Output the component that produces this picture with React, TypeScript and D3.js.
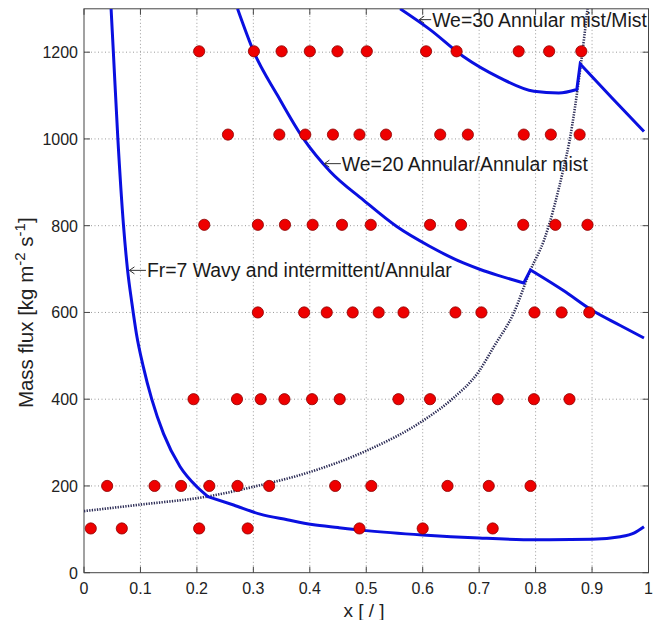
import * as d3 from 'd3';

// measured points, rows of constant mass flux
const row100x = [0.012, 0.067, 0.204, 0.29, 0.488, 0.6, 0.724];
const row200x = [0.041, 0.125, 0.172, 0.222, 0.272, 0.328, 0.445, 0.509, 0.644, 0.717, 0.791];
const row400x = [0.194, 0.271, 0.313, 0.355, 0.404, 0.453, 0.557, 0.613, 0.733, 0.797, 0.86];
const row600x = [0.308, 0.39, 0.43, 0.476, 0.522, 0.566, 0.658, 0.704, 0.798, 0.846, 0.895];
const row800x = [0.213, 0.308, 0.356, 0.405, 0.457, 0.508, 0.613, 0.668, 0.778, 0.835, 0.892];
const row1000x = [0.255, 0.346, 0.392, 0.441, 0.488, 0.535, 0.631, 0.68, 0.779, 0.827, 0.878];
const row1200x = [0.204, 0.301, 0.35, 0.4, 0.449, 0.501, 0.606, 0.66, 0.77, 0.824, 0.881];
const rowFlux = [102, 200, 400, 600, 802, 1010, 1202];

// transition curves [x, G]
const frUpper: [number, number][] = [
  [0.048, 1300], [0.052, 1200], [0.06, 1000], [0.07, 800], [0.077, 700], [0.085, 620],
  [0.093, 550], [0.105, 475], [0.12, 400], [0.141, 320], [0.17, 245], [0.2, 198], [0.22, 175],
];
const frLower: [number, number][] = [
  [0.22, 175], [0.265, 156], [0.312, 135], [0.36, 122], [0.404, 111], [0.45, 104], [0.5, 97],
  [0.6, 87], [0.7, 80], [0.8, 76], [0.9, 77], [0.95, 83], [0.975, 92], [0.992, 106],
];
const we20Upper: [number, number][] = [
  [0.272, 1300], [0.301, 1200], [0.343, 1100], [0.389, 1000], [0.436, 925], [0.495, 859],
  [0.554, 798], [0.613, 752], [0.672, 714], [0.702, 699], [0.732, 686], [0.779, 668],
];
const we20Lower: [number, number][] = [
  [0.791, 698], [0.85, 650], [0.9, 605], [0.95, 570], [0.992, 541],
];
const we30Upper: [number, number][] = [
  [0.56, 1300], [0.613, 1252], [0.672, 1190], [0.735, 1142], [0.797, 1110], [0.841, 1106], [0.873, 1114],
];
const we30Lower: [number, number][] = [
  [0.879, 1173], [0.935, 1095], [0.992, 1017],
];
const dotted: [number, number][] = [
  [0, 142], [0.1, 157], [0.22, 176], [0.3, 198], [0.4, 232], [0.5, 281], [0.6, 350], [0.65, 398],
  [0.7, 465], [0.726, 521], [0.761, 598], [0.791, 698], [0.815, 767], [0.85, 935], [0.86, 995],
  [0.87, 1075], [0.88, 1170], [0.892, 1300],
];

const xTicks = [0, 0.1, 0.2, 0.3, 0.4, 0.5, 0.6, 0.7, 0.8, 0.9, 1];
const yTicks = [0, 200, 400, 600, 800, 1000, 1200];

const notes = [
  { text: 'Fr=7 Wavy and intermittent/Annular', x: 0.0787, g: 697, gap: 18.5 },
  { text: 'We=20 Annular/Annular mist', x: 0.424, g: 943, gap: 18.5 },
  { text: 'We=30 Annular mist/Mist', x: 0.592, g: 1275, gap: 14 },
];

const W = 660;
const H = 620;
const left = 84;
const right = 648.5;
const top = 8.8;
const bottom = 572.7;
const font = '"Liberation Sans", Arial, Helvetica, sans-serif';

export default function App() {
  const x = d3.scaleLinear().domain([0, 1]).range([left, right]);
  const y = d3.scaleLinear().domain([0, 1300]).range([bottom, top]);
  const line = d3.line<[number, number]>()
    .x(d => x(d[0]))
    .y(d => y(d[1]))
    .curve(d3.curveMonotoneX);
  // two smooth pieces joined by a straight kink
  const kinked = (a: [number, number][], b: [number, number][]) =>
    (line(a) || '') + (line(b) || '').replace(/^M/, 'L');

  const rows = [row100x, row200x, row400x, row600x, row800x, row1000x, row1200x];
  const blue = '#0a10e0';

  return (
    <svg width={W} height={H} style={{ position: 'absolute', left: 0, top: 0, background: '#fff' }}
      fontFamily={font}>
      <defs>
        <clipPath id="plot">
          <rect x={left} y={top} width={right - left} height={bottom - top} />
        </clipPath>
      </defs>
      <rect width={W} height={H} fill="#fff" />

      {/* grid */}
      <g stroke="#9a9a9a" strokeWidth={1} strokeDasharray="1 2.5">
        {xTicks.slice(1, -1).map(t => (
          <line key={'gx' + t} x1={x(t)} x2={x(t)} y1={top} y2={bottom} />
        ))}
        {yTicks.slice(1).map(t => (
          <line key={'gy' + t} x1={left} x2={right} y1={y(t)} y2={y(t)} />
        ))}
      </g>

      {/* ticks and box */}
      <g stroke="#444" strokeWidth={1}>
        {xTicks.map(t => (
          <g key={'tx' + t}>
            <line x1={x(t)} x2={x(t)} y1={bottom} y2={bottom - 6} />
            <line x1={x(t)} x2={x(t)} y1={top} y2={top + 6} />
          </g>
        ))}
        {yTicks.map(t => (
          <g key={'ty' + t}>
            <line x1={left} x2={left + 6} y1={y(t)} y2={y(t)} />
            <line x1={right} x2={right - 6} y1={y(t)} y2={y(t)} />
          </g>
        ))}
        <rect x={left} y={top} width={right - left} height={bottom - top} fill="none" />
      </g>

      <g fontSize={16} fill="#222">
        {xTicks.map(t => (
          <text key={'lx' + t} x={x(t)} y={bottom + 21} textAnchor="middle">{d3.format('~g')(t)}</text>
        ))}
        {yTicks.map(t => (
          <text key={'ly' + t} x={left - 6} y={y(t) + 6} textAnchor="end">{t}</text>
        ))}
      </g>

      <text x={364} y={617} fontSize={19} textAnchor="middle" fill="#222">x [ / ]</text>
      <text transform={`translate(33,${(top + bottom) / 2 + 22}) rotate(-90)`} fontSize={20.5}
        textAnchor="middle" fill="#222">
        Mass flux [kg m<tspan fontSize={15} dy={-8}>-2</tspan>
        <tspan dy={8}> s</tspan><tspan fontSize={15} dy={-8}>-1</tspan><tspan dy={8}>]</tspan>
      </text>

      <g clipPath="url(#plot)" fill="none">
        <path d={line(dotted) || ''} stroke="#2b2b55" strokeWidth={2.6} strokeDasharray="1.3 1.3" />
        <path d={kinked(frUpper, frLower)} stroke={blue} strokeWidth={3} />
        <path d={kinked(we20Upper, we20Lower)} stroke={blue} strokeWidth={3} />
        <path d={kinked(we30Upper, we30Lower)} stroke={blue} strokeWidth={3} />
      </g>

      <g>
        {rows.map((r, i) => r.map(v => (
          <circle key={i + '-' + v} cx={x(v)} cy={y(rowFlux[i])} r={5.6}
            fill="#ee0000" stroke="#8a0000" strokeWidth={0.8} />
        )))}
      </g>

      {notes.map(n => {
        const tx = x(n.x);
        const ty = y(n.g);
        return (
          <g key={n.text}>
            <path d={`M${tx + n.gap - 1},${ty} L${tx + 1},${ty} M${tx + 6},${ty - 3.5} L${tx + 1},${ty} L${tx + 6},${ty + 3.5}`}
              stroke="#333" strokeWidth={1} fill="none" />
            <text x={tx + n.gap} y={ty + 7} fontSize={19.4} fill="#1a1a1a">{n.text}</text>
          </g>
        );
      })}
    </svg>
  );
}
